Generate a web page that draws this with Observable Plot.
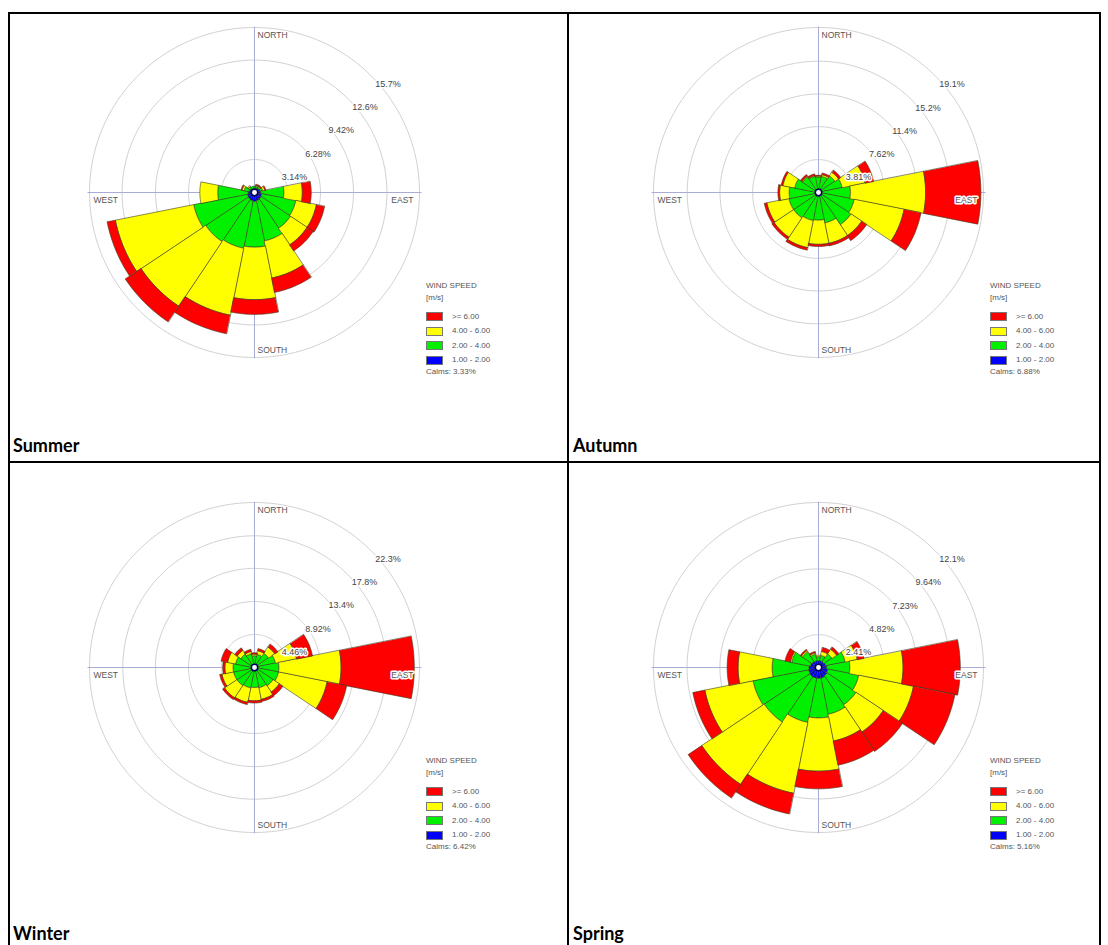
<!DOCTYPE html>
<html><head><meta charset="utf-8">
<script src="https://cdn.jsdelivr.net/npm/d3@7"></script>
<script src="https://cdn.jsdelivr.net/npm/@observablehq/plot@0.6"></script>
<style>
html,body{margin:0;padding:0;background:#fff;}
#page{position:relative;width:1108px;height:945px;overflow:hidden;background:#fff;}
.panel{position:absolute;background:#fff;}
.panel svg{position:absolute;left:0;top:0;}
.leg{position:absolute;font-family:"Liberation Sans",Arial,sans-serif;font-size:8px;color:#555;white-space:nowrap;line-height:10px;}
.sw{position:absolute;width:17px;height:9px;box-sizing:border-box;border:1px solid #777;}
#overlay{position:absolute;left:0;top:0;}
</style></head>
<body><div id="page"></div>
<script>
// ---- categories ----
const directions = ["N","NNE","NE","ENE","E","ESE","SE","SSE","S","SSW","SW","WSW","W","WNW","NW","NNW"];
const speedLabels = ["1.00 - 2.00","2.00 - 4.00","4.00 - 6.00",">= 6.00"];
const speedColors = ["#0000ff","#00f000","#ffff00","#ff0000"];
const seasonNames = ["Summer","Autumn","Winter","Spring"];
const calmPercent = [3.33, 6.88, 6.42, 5.16];

// ---- frequency (%) per direction, per wind-speed class ----
const summer1to2 = [0.40,0.45,0.50,0.55,0.60,0.70,0.75,0.80,0.85,0.80,0.75,0.70,0.60,0.50,0.45,0.40];
const summer2to4 = [0.20,0.15,0.10,0.25,2.20,3.30,3.35,3.90,4.35,4.60,4.85,5.20,2.90,0.50,0.25,0.20];
const summer4to6 = [0.00,0.10,0.10,0.20,1.75,2.00,1.90,3.60,5.00,6.50,7.40,7.60,1.70,0.20,0.10,0.00];
const summer6up  = [0.00,0.10,0.10,0.10,0.85,0.80,0.70,1.40,1.40,1.80,1.80,0.80,0.00,0.10,0.00,0.00];

const autumn1to2 = [0.35,0.35,0.35,0.35,0.35,0.35,0.35,0.35,0.35,0.35,0.35,0.35,0.35,0.35,0.35,0.35];
const autumn2to4 = [1.45,1.55,1.95,2.45,3.35,3.85,4.15,3.25,2.85,2.95,3.15,3.15,3.05,2.45,1.85,1.55];
const autumn4to6 = [0.10,0.20,0.50,2.70,8.70,5.90,1.50,2.40,2.80,3.20,2.70,2.60,1.10,1.40,0.10,0.10];
const autumn6up  = [0.10,0.20,0.30,1.00,6.40,2.00,0.70,0.30,0.25,0.30,0.30,0.30,0.20,0.20,0.20,0.20];

const winter1to2 = [0.35,0.35,0.35,0.35,0.35,0.35,0.35,0.35,0.35,0.35,0.35,0.35,0.35,0.35,0.35,0.35];
const winter2to4 = [1.25,1.45,1.95,2.55,2.95,2.95,2.65,2.45,2.35,2.45,2.55,2.55,2.55,2.25,1.85,1.55];
const winter4to6 = [0.20,0.50,1.00,2.90,8.40,6.70,1.00,1.60,1.80,2.00,2.00,1.60,1.10,1.10,0.60,0.30];
const winter6up  = [0.20,0.30,0.50,2.20,9.90,2.70,0.60,0.30,0.30,0.30,0.30,0.30,0.30,0.90,0.40,0.30];

const spring1to2 = [0.50,0.50,0.50,0.55,0.60,0.70,0.75,0.80,0.80,0.80,0.80,0.75,0.70,0.60,0.55,0.50];
const spring2to4 = [0.30,0.40,0.70,1.45,1.70,2.30,2.55,2.70,2.90,3.30,4.00,4.15,2.70,1.40,0.85,0.50];
const spring4to6 = [0.10,0.30,0.40,0.90,3.90,4.10,2.40,2.00,3.90,5.30,5.50,3.60,2.50,0.10,0.10,0.10];
const spring6up  = [0.00,0.30,0.20,0.50,4.20,3.10,1.70,1.80,1.30,1.55,1.20,0.90,0.80,0.40,0.10,0.10];

// ---- ring (radial tick) values, % ----
const summerRings = [3.14, 6.28, 9.42, 12.6, 15.7];
const autumnRings = [3.81, 7.62, 11.4, 15.2, 19.1];
const winterRings = [4.46, 8.92, 13.4, 17.8, 22.3];
const springRings = [2.41, 4.82, 7.23, 9.64, 12.1];

const page = document.getElementById("page");
const FONT = '"Liberation Sans", Arial, sans-serif';
const RPX = 165; // pixel radius of outer ring

const panels = [
  {bins:[summer1to2,summer2to4,summer4to6,summer6up], rings:summerRings, calm:calmPercent[0], cx:254, cy:192, box:[84,17,420,380]},
  {bins:[autumn1to2,autumn2to4,autumn4to6,autumn6up], rings:autumnRings, calm:calmPercent[1], cx:818, cy:192, box:[648,17,412,398]},
  {bins:[winter1to2,winter2to4,winter4to6,winter6up], rings:winterRings, calm:calmPercent[2], cx:254, cy:667, box:[84,497,420,390]},
  {bins:[spring1to2,spring2to4,spring4to6,spring6up], rings:springRings, calm:calmPercent[3], cx:818, cy:667, box:[648,500,412,360]}
];

const rad = a => a * Math.PI / 180;

function sectorRows(bins) {
  const rows = [];
  directions.forEach((dir, i) => {
    let r0 = 0;
    bins.forEach((arr, b) => {
      const v = arr[i];
      const r1 = r0 + v;
      if (v > 0) {
        const a0 = rad(i * 22.5 - 11.25), a1 = rad(i * 22.5 + 11.25);
        const id = dir + "-" + b, n = 12;
        for (let k = 0; k <= n; k++) { const a = a0 + (a1 - a0) * k / n; rows.push({id, bin: b, x: r1 * Math.sin(a), y: r1 * Math.cos(a)}); }
        for (let k = n; k >= 0; k--) { const a = a0 + (a1 - a0) * k / n; rows.push({id, bin: b, x: r0 * Math.sin(a), y: r0 * Math.cos(a)}); }
      }
      r0 = r1;
    });
  });
  return rows;
}

function ringRows(rings) {
  const rows = [];
  rings.forEach(v => { for (let k = 0; k <= 180; k++) { const a = rad(k * 2); rows.push({ring: v, x: v * Math.sin(a), y: v * Math.cos(a)}); } });
  return rows;
}

panels.forEach((p, pi) => {
  const [left, top, w, h] = p.box;
  const R = p.rings[p.rings.length - 1];
  const div = document.createElement("div");
  div.className = "panel";
  Object.assign(div.style, {left: left + "px", top: top + "px", width: w + "px", height: h + "px"});
  page.appendChild(div);
  const ox = p.cx - left, oy = p.cy - top;
  const rows = sectorRows(p.bins);
  const lab45 = Math.SQRT1_2;
  const chart = Plot.plot({
    width: w, height: h, margin: 0,
    x: {domain: [-R, R], range: [ox - RPX, ox + RPX], axis: null},
    y: {domain: [-R, R], range: [oy + RPX, oy - RPX], axis: null},
    style: {background: "transparent", fontFamily: FONT, overflow: "visible"},
    marks: [
      Plot.line(ringRows(p.rings), {x: "x", y: "y", z: "ring", stroke: "#d2d2d2", strokeWidth: 1}),
      Plot.link([{x1: -R * 1.012, y1: 0, x2: R * 1.012, y2: 0}, {x1: 0, y1: R * 1.005, x2: 0, y2: -R * 1.005}],
        {x1: "x1", y1: "y1", x2: "x2", y2: "y2", stroke: "#a9acd6", strokeWidth: 1}),
      ...speedColors.map((c, b) => Plot.line(rows.filter(d => d.bin === b),
        {x: "x", y: "y", z: "id", fill: c, stroke: "#3a3a20", strokeWidth: 0.6, curve: "linear-closed"})),
      Plot.dot([{x: 0, y: 0}], {x: "x", y: "y", r: 3.2, fill: "white", stroke: "#000060", strokeWidth: 1.5}),
      Plot.text(p.rings, {x: d => d * lab45, y: d => d * lab45, text: d => d + "%", textAnchor: "start", dx: 4, dy: 8,
        fontSize: 9, fill: "#444", stroke: "white", strokeWidth: 3}),
      Plot.text([{x: 0, y: R, t: "NORTH"}], {x: "x", y: "y", text: "t", textAnchor: "start", dx: 3, dy: 8, fontSize: 8.5, fill: "#555", stroke: "white", strokeWidth: 2}),
      Plot.text([{x: 0, y: -R, t: "SOUTH"}], {x: "x", y: "y", text: "t", textAnchor: "start", dx: 3, dy: -7, fontSize: 8.5, fill: "#555", stroke: "white", strokeWidth: 2}),
      Plot.text([{x: -R, y: 0, t: "WEST"}], {x: "x", y: "y", text: "t", textAnchor: "start", dx: 4, dy: 8, fontSize: 8.5, fill: "#555", stroke: "white", strokeWidth: 2}),
      Plot.text([{x: R, y: 0, t: "EAST"}], {x: "x", y: "y", text: "t", textAnchor: "end", dx: -6, dy: 8, fontSize: 8.5, fill: "#555", stroke: "white", strokeWidth: 3})
    ]
  });
  div.appendChild(chart);

  // legend
  const lx = ox + 172, ly = oy;
  const addText = (txt, x, yc) => { const t = document.createElement("div"); t.className = "leg"; t.textContent = txt;
    Object.assign(t.style, {left: x + "px", top: (yc - 5) + "px"}); div.appendChild(t); };
  addText("WIND SPEED", lx, ly + 94);
  addText("[m/s]", lx, ly + 106);
  const order = [3, 2, 1, 0];
  order.forEach((b, k) => {
    const top = ly + 120 + k * 14.5;
    const s = document.createElement("div"); s.className = "sw";
    Object.assign(s.style, {left: lx + "px", top: top + "px", background: speedColors[b]});
    div.appendChild(s);
    addText(speedLabels[b], lx + 26, top + 4.5);
  });
  addText("Calms: " + p.calm.toFixed(2) + "%", lx, ly + 180);
});

// table borders and season captions
const svg = d3.select(page).append("svg").attr("id", "overlay").attr("width", 1108).attr("height", 945);
const lines = [[8,13,1101,13],[9,13,9,945],[568,13,568,945],[1100,13,1100,945],[8,462,1101,462]];
svg.selectAll("line").data(lines).join("line")
  .attr("x1", d => d[0]).attr("y1", d => d[1]).attr("x2", d => d[2]).attr("y2", d => d[3])
  .attr("stroke", "#000").attr("stroke-width", 2);
const captionPos = [[13,452],[573,452],[13,940],[573,940]];
svg.selectAll("text").data(seasonNames).join("text")
  .attr("x", (d, i) => captionPos[i][0]).attr("y", (d, i) => captionPos[i][1])
  .attr("font-family", "Lato, 'Open Sans', sans-serif").attr("font-weight", 700).attr("font-size", 18)
  .text(d => d);
</script></body></html>
